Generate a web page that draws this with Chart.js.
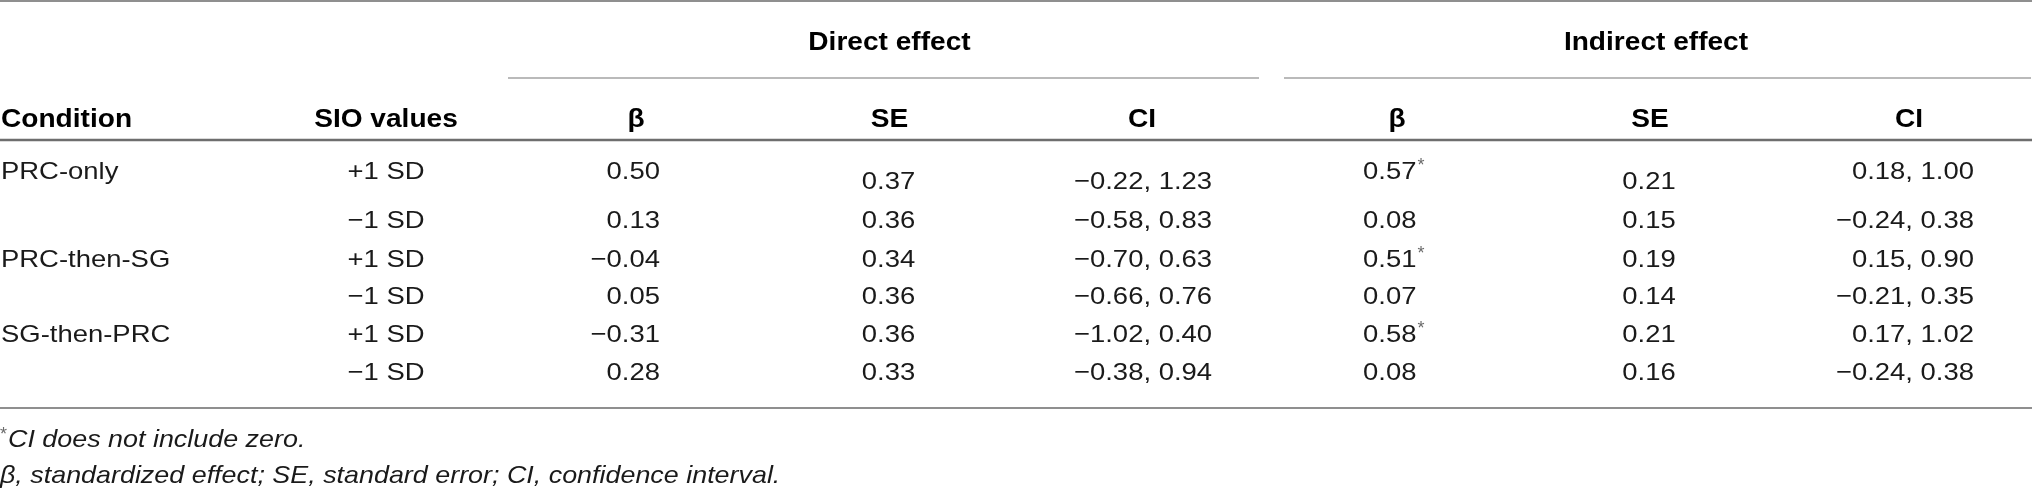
<!DOCTYPE html>
<html>
<head>
<meta charset="utf-8">
<script src="https://cdn.jsdelivr.net/npm/chart.js@4.4.1/dist/chart.umd.min.js"></script>
<style>
  html, body { margin: 0; padding: 0; background: #ffffff; }
  #wrap { width: 2032px; height: 491px; }
</style>
</head>
<body>
<div id="wrap"><canvas id="c" width="2032" height="491"></canvas></div>
<script>
// ---------- data ----------
const groupHeaders = ['Direct effect', 'Indirect effect'];
const columnHeaders = ['Condition', 'SIO values', 'β', 'SE', 'CI', 'β', 'SE', 'CI'];
const conditions = ['PRC-only', '', 'PRC-then-SG', '', 'SG-then-PRC', ''];
const sioValues = ['+1 SD', '−1 SD', '+1 SD', '−1 SD', '+1 SD', '−1 SD'];
const directBeta = [0.50, 0.13, -0.04, 0.05, -0.31, 0.28];
const directSE = [0.37, 0.36, 0.34, 0.36, 0.36, 0.33];
const directCILow = [-0.22, -0.58, -0.70, -0.66, -1.02, -0.38];
const directCIHigh = [1.23, 0.83, 0.63, 0.76, 0.40, 0.94];
const indirectBeta = [0.57, 0.08, 0.51, 0.07, 0.58, 0.08];
const indirectSig = [true, false, true, false, true, false];
const indirectSE = [0.21, 0.15, 0.19, 0.14, 0.21, 0.16];
const indirectCILow = [0.18, -0.24, 0.15, -0.21, 0.17, -0.24];
const indirectCIHigh = [1.00, 0.38, 0.90, 0.35, 1.02, 0.38];
const footnotes = ['CI does not include zero.', 'β, standardized effect; SE, standard error; CI, confidence interval.'];

// ---------- layout (in scale units) ----------
const layout = {
  groupBase: 50,
  underlineY: 78,
  headerBase: 127,
  headerLineY: 140,
  rowBase: [179, 228, 267, 304, 342, 380],
  shiftedRow0: 189,
  bottomLineY: 408,
  foot1Base: 447,
  foot2Base: 483,
  groups: [{ c: 889.5, x0: 508, x1: 1259 }, { c: 1656, x0: 1284, x1: 2031 }],
  cols: [
    { h: 1, hAlign: 'left', v: 1, vAlign: 'left' },
    { h: 386, hAlign: 'center', v: 386, vAlign: 'center' },
    { h: 636, hAlign: 'center', v: 660, vAlign: 'right' },
    { h: 889.5, hAlign: 'center', v: 888.5, vAlign: 'center' },
    { h: 1142, hAlign: 'center', v: 1143, vAlign: 'center' },
    { h: 1397, hAlign: 'center', v: 1363, vAlign: 'left' },
    { h: 1650, hAlign: 'center', v: 1649, vAlign: 'center' },
    { h: 1909, hAlign: 'center', v: 1974, vAlign: 'right' }
  ]
};

const fmt = v => (v < 0 ? '−' : '') + Math.abs(v).toFixed(2);

const REG = '24.5px "Liberation Sans", Arial, sans-serif';
const BOLD = 'bold 26.5px "Liberation Sans", Arial, sans-serif';
const ITAL = 'italic 24px "Liberation Sans", Arial, sans-serif';
const SUP = '18px "Liberation Sans", Arial, sans-serif';
const SX_REG = 1.12, SX_BOLD = 1.06;

function txt(ctx, s, x, y, font, align, sx, color) {
  ctx.save();
  ctx.font = font;
  ctx.fillStyle = color || '#1a1a1a';
  ctx.textAlign = align;
  ctx.textBaseline = 'alphabetic';
  ctx.translate(x, y);
  ctx.scale(sx, 1);
  ctx.fillText(s, 0, 0);
  const w = ctx.measureText(s).width * sx;
  ctx.restore();
  return w;
}

function hline(ctx, xs, x0, x1, y, w, color) {
  ctx.save();
  ctx.strokeStyle = color;
  ctx.lineWidth = w;
  ctx.beginPath();
  ctx.moveTo(xs.getPixelForValue(x0), y);
  ctx.lineTo(xs.getPixelForValue(x1), y);
  ctx.stroke();
  ctx.restore();
}

const tablePlugin = {
  id: 'tablePlugin',
  afterDraw(chart) {
    const ctx = chart.ctx;
    const xs = chart.scales.x, ys = chart.scales.y;
    const X = v => xs.getPixelForValue(v);
    const Y = v => ys.getPixelForValue(v);

    // rules
    hline(ctx, xs, 0, 2032, Y(1), 2, '#8f8f8f');
    layout.groups.forEach(g => hline(ctx, xs, g.x0, g.x1, Y(layout.underlineY), 1.5, '#a3a3a3'));
    hline(ctx, xs, 0, 2032, Y(layout.headerLineY), 2.5, '#6e6e6e');
    hline(ctx, xs, 0, 2032, Y(layout.bottomLineY), 2, '#8f8f8f');

    // group headers
    groupHeaders.forEach((g, i) => txt(ctx, g, X(layout.groups[i].c), Y(layout.groupBase), BOLD, 'center', SX_BOLD, '#000'));

    // column headers
    columnHeaders.forEach((h, i) => {
      const c = layout.cols[i];
      txt(ctx, h, X(c.h), Y(layout.headerBase), BOLD, c.hAlign, SX_BOLD, '#000');
    });

    // body
    for (let r = 0; r < sioValues.length; r++) {
      const base = Y(layout.rowBase[r]);
      const shifted = r === 0 ? Y(layout.shiftedRow0) : base;
      const cells = [
        [conditions[r], base],
        [sioValues[r], base],
        [fmt(directBeta[r]), base],
        [fmt(directSE[r]), shifted],
        [fmt(directCILow[r]) + ', ' + fmt(directCIHigh[r]), shifted],
        [fmt(indirectBeta[r]), base],
        [fmt(indirectSE[r]), shifted],
        [fmt(indirectCILow[r]) + ', ' + fmt(indirectCIHigh[r]), base]
      ];
      cells.forEach((cell, i) => {
        if (!cell[0]) return;
        const c = layout.cols[i];
        const w = txt(ctx, cell[0], X(c.v), cell[1], REG, c.vAlign, SX_REG);
        if (i === 5 && indirectSig[r]) {
          txt(ctx, '*', X(c.v) + w + 1, cell[1] - 8, SUP, 'left', 1, '#6a6a6a');
        }
      });
    }

    // footnotes
    txt(ctx, '*', X(0), Y(layout.foot1Base) - 7, SUP, 'left', 1, '#6a6a6a');
    txt(ctx, footnotes[0], X(8), Y(layout.foot1Base), ITAL, 'left', SX_REG);
    txt(ctx, footnotes[1], X(0), Y(layout.foot2Base), ITAL, 'left', SX_REG);
  }
};

new Chart(document.getElementById('c'), {
  type: 'scatter',
  data: { datasets: [{ data: [], pointRadius: 0 }] },
  options: {
    responsive: false,
    animation: false,
    devicePixelRatio: 1,
    layout: { padding: 0 },
    plugins: { legend: { display: false }, tooltip: { enabled: false } },
    scales: {
      x: { type: 'linear', min: 0, max: 2032, display: false },
      y: { type: 'linear', min: 0, max: 491, reverse: true, display: false }
    }
  },
  plugins: [tablePlugin]
});
</script>
</body>
</html>
